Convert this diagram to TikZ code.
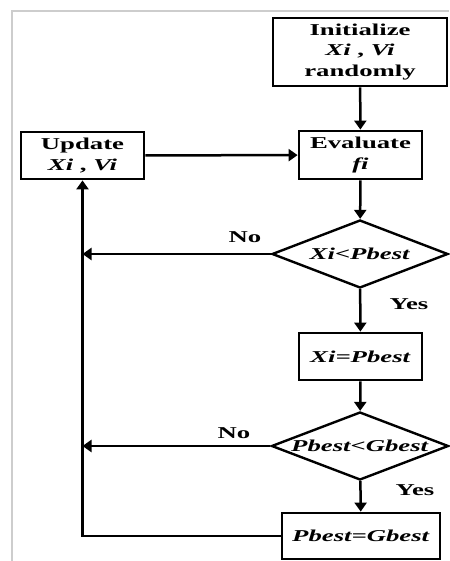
\documentclass[tikz,border=0pt]{standalone}
\usepackage{fontspec}
\usepackage{graphicx}
\setmainfont{Liberation Serif}
\usetikzlibrary{shapes.geometric,arrows.meta}
\definecolor{framegray}{RGB}{205,205,205}
% wide bold lettering
\newcommand\wtext[1]{\scalebox{1.61}[1]{#1}}
\begin{document}
\begin{tikzpicture}[x=1pt,y=-1pt,
  every node/.style={font=\fontsize{16.6}{20.5}\selectfont\bfseries},
  stepbox/.style={draw, line width=2.8pt, inner sep=0pt, align=center},
  decision/.style={draw, diamond, line width=2.4pt, inner sep=0pt, aspect=2.6},
  flow/.style={line width=2.5pt, -{Triangle[width=12pt,length=9pt]}},
  lbl/.style={inner sep=0pt}
]
\useasboundingbox (0,0) rectangle (449,561);
% page frame
\draw[line width=2pt, draw=framegray] (12,561) -- (12,11) -- (449,11);

% process steps and decisions
\node[stepbox, minimum width=174pt, minimum height=68pt] (init) at (360,52)
  {\wtext{Initialize}\\\wtext{\textit{Xi} , \textit{Vi}}\\\wtext{randomly}};
\node[stepbox, minimum width=123pt, minimum height=48pt] (eval) at (360.5,155)
  {\wtext{Evaluate}\\\wtext{\textit{fi}}};
\node[stepbox, minimum width=123pt, minimum height=47pt] (upd) at (82.5,155.5)
  {\wtext{Update}\\\wtext{\textit{Xi} , \textit{Vi}}};
\node[decision, minimum width=176pt, minimum height=68pt] (d1) at (360,254)
  {\wtext{\textit{Xi<Pbest}}};
\node[stepbox, minimum width=123pt, minimum height=47pt] (xp) at (360.5,356.5)
  {\wtext{\textit{Xi=Pbest}}};
\node[decision, minimum width=177pt, minimum height=68pt] (d2) at (360,446)
  {\wtext{\textit{Pbest<Gbest}}};
\node[stepbox, minimum width=158pt, minimum height=46pt] (pg) at (361,536)
  {\wtext{\textit{Pbest=Gbest}}};

% junctions on the return line
\coordinate (j1) at (upd.south |- d1.west);
\coordinate (j2) at (upd.south |- d2.west);

% connectors
\draw[flow] (init) -- (eval);
\draw[flow] (upd) -- (eval);
\draw[flow] (eval) -- (d1);
\draw[flow] (d1) -- (j1);
\draw[flow] (d1) -- (xp);
\draw[flow] (xp) -- (d2);
\draw[flow] (d2) -- (j2);
\draw[flow] (d2) -- (pg);
\draw[flow] (pg.west) -| (upd.south);

% branch labels
\node[lbl] (no1) at (245,237) {\wtext{No}};
\node[lbl] (yes1) at (409,304) {\wtext{Yes}};
\node[lbl] (no2) at (234,433) {\wtext{No}};
\node[lbl] (yes2) at (415,490) {\wtext{Yes}};
\end{tikzpicture}
\end{document}
